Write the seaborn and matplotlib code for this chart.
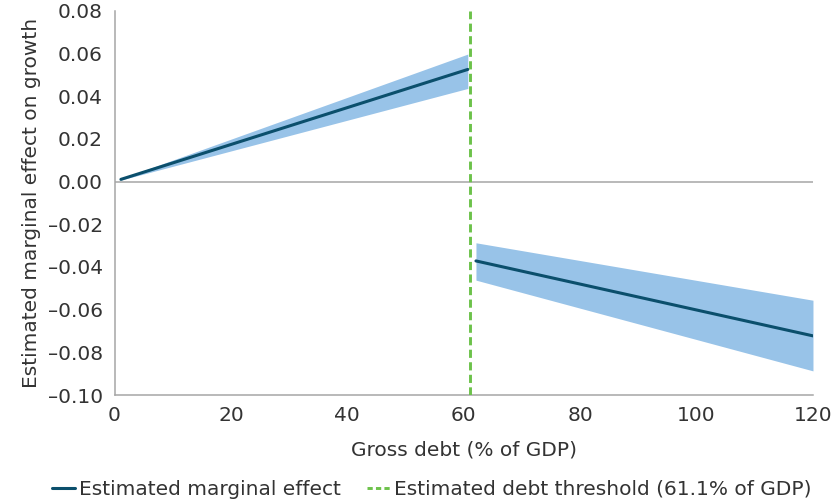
import seaborn as sns
import numpy as np
import pandas as pd
import matplotlib.pyplot as plt
from matplotlib.lines import Line2D

# marginal effect of gross debt on growth, below and above the threshold
debt_below = [1.1, 60.7]
effect_below = [0.001, 0.0525]
upper_below = [0.0013, 0.0597]
lower_below = [0.0007, 0.0436]

debt_above = [62.1, 120]
effect_above = [-0.0372, -0.0723]
upper_above = [-0.0287, -0.0556]
lower_above = [-0.0462, -0.0887]

threshold = 61.1

line_col = '#0b4f6c'
band_col = '#98c3e8'
thr_col = '#6cc24a'
grey = '#a6a6a6'
txt = '#333333'
fs = 14.5

sns.set_style('white')
plt.rcParams['font.family'] = ['DejaVu Sans']

below = pd.DataFrame({'debt': debt_below, 'effect': effect_below})
above = pd.DataFrame({'debt': debt_above, 'effect': effect_above})

fig, ax = plt.subplots(figsize=(8.37, 5.03), dpi=100)
fig.subplots_adjust(left=0.1368, right=0.9713, top=0.9787, bottom=0.2147)

ax.fill_between(debt_below, lower_below, upper_below, color=band_col, lw=0)
ax.fill_between(debt_above, lower_above, upper_above, color=band_col, lw=0)
ax.axhline(0, color=grey, lw=1.1, zorder=1)
sns.lineplot(data=below, x='debt', y='effect', color=line_col, lw=2.2, ax=ax)
sns.lineplot(data=above, x='debt', y='effect', color=line_col, lw=2.2, ax=ax)
ax.axvline(threshold, color=thr_col, lw=2.1, ls=(0, (2.8, 1.5)), zorder=4)

ax.set_xlim(0, 120)
ax.set_ylim(-0.10, 0.08)
ax.set_xticks(np.arange(0, 121, 20))
yt = np.arange(-0.10, 0.081, 0.02)
ax.set_yticks(yt)
ax.set_yticklabels([f'{v:.2f}'.replace('-', '\u2013') for v in yt])
for s in ['top', 'right']:
    ax.spines[s].set_visible(False)
for s in ['left', 'bottom']:
    ax.spines[s].set_color(grey)
    ax.spines[s].set_linewidth(1.1)
ax.tick_params(axis='both', colors=grey, length=4.5, width=1.1, labelsize=fs,
               labelcolor=txt, direction='out')
ax.tick_params(axis='x', pad=3.5)
ax.tick_params(axis='y', pad=4)

ax.set_xlabel('Gross debt (% of GDP)', fontsize=fs, color=txt, labelpad=11)
ax.set_ylabel('Estimated marginal effect on growth', fontsize=fs, color=txt, labelpad=5)

handles = [Line2D([], [], color=line_col, lw=2.2),
           Line2D([], [], color=thr_col, lw=2.1, ls=(0, (1.8, 1.1)))]
fig.legend(handles, ['Estimated marginal effect', 'Estimated debt threshold (61.1% of GDP)'],
           loc='lower center', bbox_to_anchor=(0.516, -0.028), ncol=2, frameon=False,
           fontsize=fs, handlelength=1.15, handletextpad=0.2, columnspacing=1.3,
           labelcolor=txt)

fig.savefig('out.png', dpi=100)
plt.close(fig)
